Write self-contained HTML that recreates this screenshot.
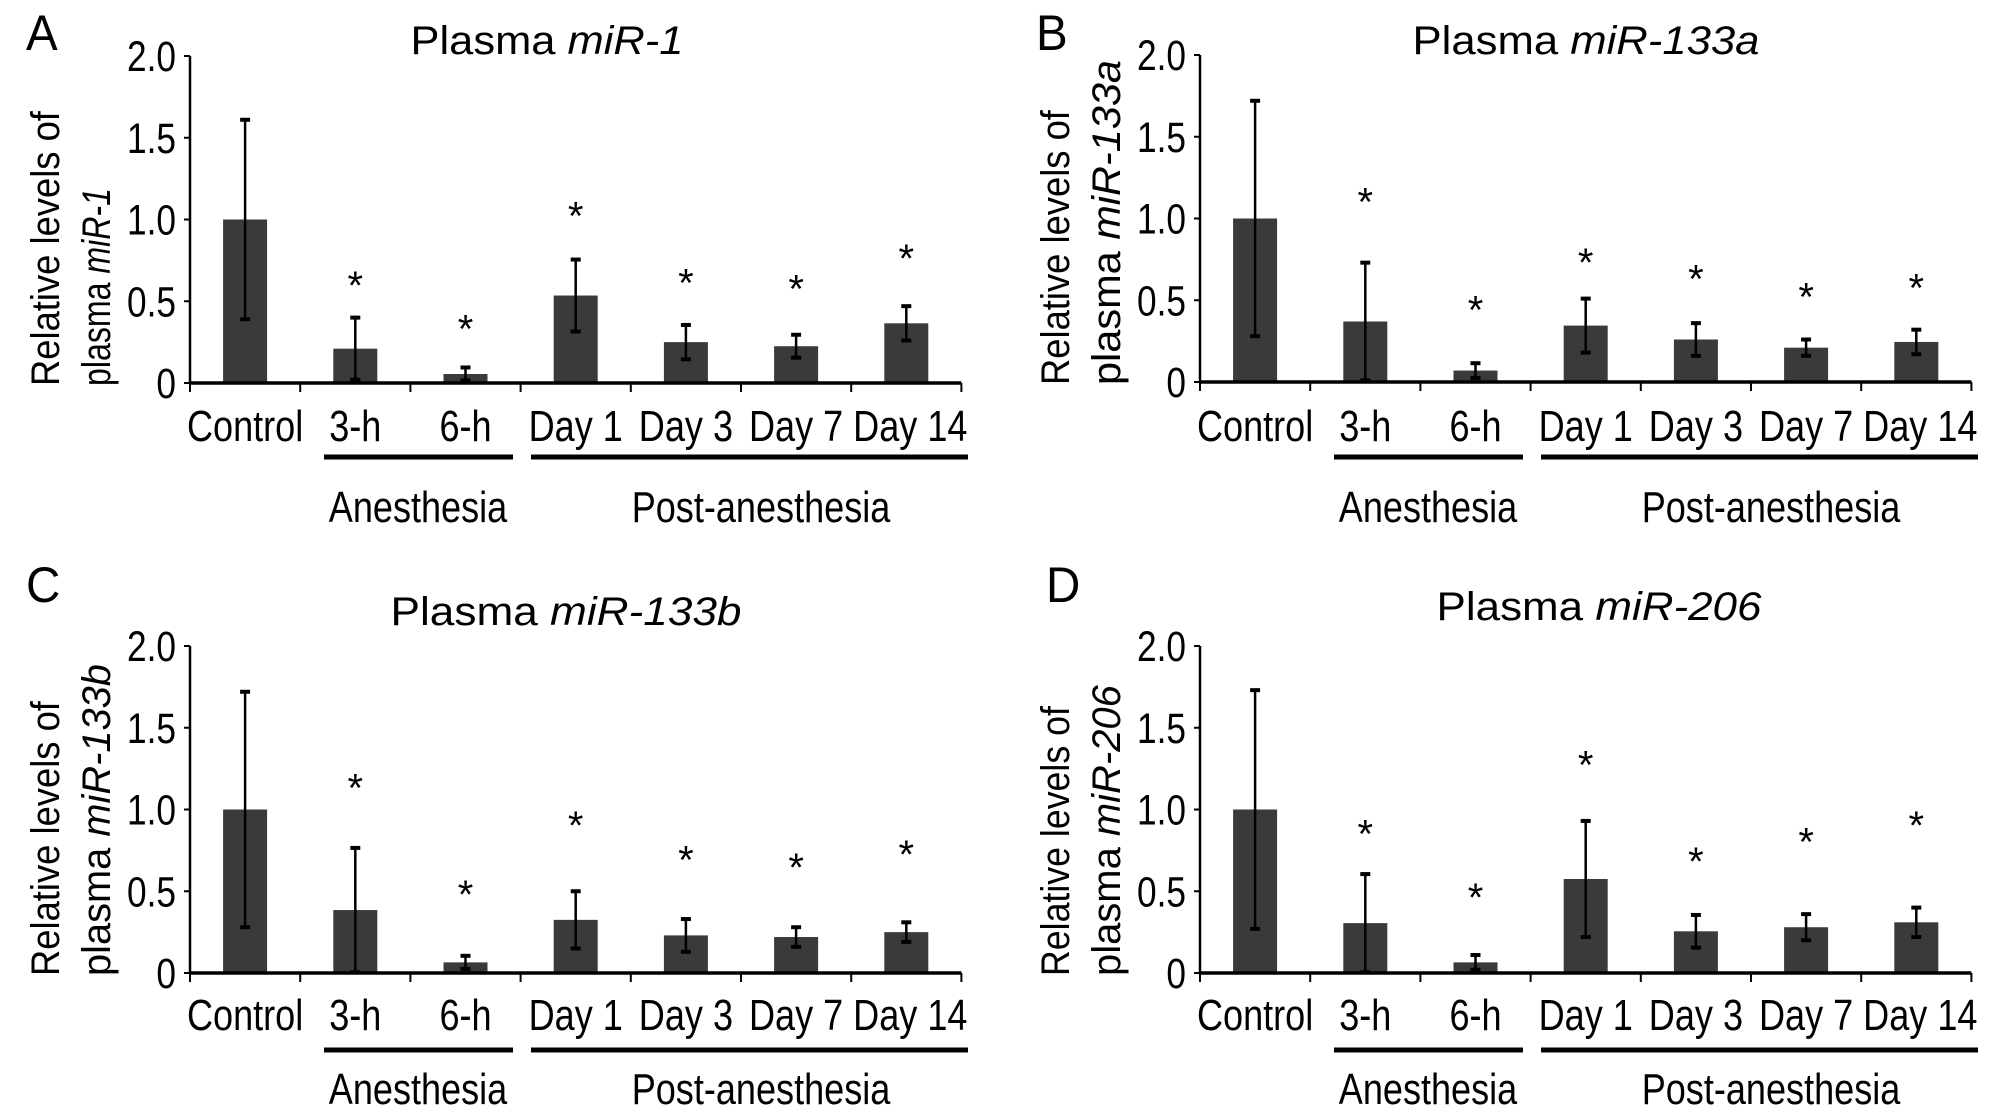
<!DOCTYPE html>
<html><head><meta charset="utf-8"><style>
html,body{margin:0;padding:0;background:#fff;}
svg{display:block;font-family:"Liberation Sans",Arial,sans-serif;}
</style></head><body>
<svg id="fig" width="2009" height="1117" viewBox="0 0 2009 1117" xmlns="http://www.w3.org/2000/svg"></svg>
<script>
const categories = ["Control","3-h","6-h","Day 1","Day 3","Day 7","Day 14"];
const yTicks = [0, 0.5, 1.0, 1.5, 2.0];
const yTickLabels = ["0","0.5","1.0","1.5","2.0"];
const meansA = [1.0, 0.21, 0.055, 0.535, 0.25, 0.225, 0.365];
const errsA  = [0.61, 0.19, 0.04, 0.22, 0.105, 0.07, 0.105];
const starsA = [null, 0.605, 0.34, 1.03, 0.62, 0.585, 0.77];
const meansB = [1.0, 0.37, 0.07, 0.345, 0.26, 0.21, 0.245];
const errsB  = [0.72, 0.36, 0.045, 0.165, 0.1, 0.05, 0.075];
const starsB = [null, 1.11, 0.45, 0.74, 0.64, 0.53, 0.585];
const meansC = [1.0, 0.385, 0.065, 0.325, 0.23, 0.22, 0.25];
const errsC  = [0.72, 0.38, 0.04, 0.175, 0.1, 0.06, 0.06];
const starsC = [null, 1.14, 0.49, 0.91, 0.70, 0.655, 0.735];
const meansD = [1.0, 0.305, 0.065, 0.575, 0.255, 0.28, 0.31];
const errsD  = [0.73, 0.30, 0.045, 0.355, 0.1, 0.08, 0.09];
const starsD = [null, 0.86, 0.47, 1.28, 0.69, 0.81, 0.91];

const NS = "http://www.w3.org/2000/svg";
const svg = document.getElementById("fig");
function mk(tag, attrs, parent){
  const e = document.createElementNS(NS, tag);
  for (const k in attrs) e.setAttribute(k, attrs[k]);
  (parent||svg).appendChild(e);
  return e;
}
function txt(parent, x, y, s, size, anchor, sx){
  const t = mk("text", {"font-size": size, "text-anchor": anchor||"start", fill:"#000",
    transform:"translate("+x+","+y+") scale("+(sx||1)+",1)"}, parent);
  t.textContent = s;
  return t;
}
function fit(t, x, y, target){
  const w = t.getComputedTextLength();
  const s = w > 0 ? target / w : 1;
  t.setAttribute("transform", "translate("+x+","+y+") scale("+s+",1)");
}

const panels = [
  {id:"a", letter:"A", gene:"miR-1", ox:190, oy:383, means:meansA, errs:errsA, stars:starsA,
   lx:26, ly:50, tx:547, ty:54, tl:273, yl1:275, yl2:198, catY:441, grpLine:457, grpY:522},
  {id:"b", letter:"B", gene:"miR-133a", ox:1200, oy:382, means:meansB, errs:errsB, stars:starsB,
   lx:1036, ly:50, tx:1586, ty:54, tl:347, yl1:275, yl2:325, catY:441, grpLine:457, grpY:522},
  {id:"c", letter:"C", gene:"miR-133b", ox:190, oy:973, means:meansC, errs:errsC, stars:starsC,
   lx:26, ly:602, tx:566, ty:625, tl:351, yl1:275, yl2:312, catY:1030, grpLine:1050, grpY:1104},
  {id:"d", letter:"D", gene:"miR-206", ox:1200, oy:973, means:meansD, errs:errsD, stars:starsD,
   lx:1046, ly:602, tx:1599, ty:620, tl:325, yl1:270, yl2:291, catY:1030, grpLine:1050, grpY:1104}
];

const UNIT = 163.5, CATW = 110.2, BARW = 44;

panels.forEach(p => {
  const g = mk("g", {});
  
  
  const y = v => p.oy - v*UNIT;
  const xc = i => p.ox + CATW*(i+0.5);

  const L = txt(g, p.lx, p.ly, p.letter, 50, "start", 0.95);
  
  

  const T = mk("text", {"font-size":40, "text-anchor":"middle", fill:"#000"}, g);
  
  
  T.appendChild(document.createTextNode("Plasma "));
  const it = mk("tspan", {"font-style":"italic"}, T); it.textContent = p.gene;
  fit(T, p.tx, p.ty, p.tl);

  // y-axis title (both lines start at the bottom)
  const yt = mk("g", {transform:"translate("+(p.ox-145)+","+(p.oy+3)+") rotate(-90)"}, g);
  
  
  const t1 = mk("text", {"font-size":40, "text-anchor":"start"}, yt);
  t1.textContent = "Relative levels of";
  fit(t1, 0, 14, p.yl1);
  const t2 = mk("text", {"font-size":40, "text-anchor":"start"}, yt);
  t2.appendChild(document.createTextNode("plasma "));
  const it2 = mk("tspan", {"font-style":"italic"}, t2); it2.textContent = p.gene;
  fit(t2, 0, 65, p.yl2);

  // y axis
  const ya = mk("line", {x1:p.ox, y1:y(2), x2:p.ox, y2:p.oy, stroke:"#000", "stroke-width":2.5}, g);
  
  
  yTicks.forEach((v,i) => {
    mk("line", {x1:p.ox-6, y1:y(v), x2:p.ox, y2:y(v), stroke:"#000", "stroke-width":2}, g);
    const tl = txt(g, p.ox-14, y(v)+15, yTickLabels[i], 43, "end", 0.82);
    
    
  });

  // bars
  categories.forEach((c,i) => {
    const m = p.means[i], e = p.errs[i];
    const b = mk("rect", {x:xc(i)-BARW/2, y:y(m), width:BARW, height:p.oy-y(m), fill:"#3a3a3a"}, g);
    
    
    const eb = mk("g", {stroke:"#000", "stroke-width":2.5}, g);
    
    
    mk("line", {x1:xc(i), y1:y(m+e), x2:xc(i), y2:y(Math.max(0,m-e))}, eb);
    mk("line", {x1:xc(i)-5, y1:y(m+e), x2:xc(i)+5, y2:y(m+e), "stroke-width":4}, eb);
    mk("line", {x1:xc(i)-5, y1:y(Math.max(0,m-e)), x2:xc(i)+5, y2:y(Math.max(0,m-e)), "stroke-width":4}, eb);
    if (p.stars[i] !== null) {
      const s = txt(g, xc(i), y(p.stars[i])+15, "*", 40, "middle", 1);
      
      
    }
    const cl = txt(g, xc(i) + (i===6 ? 4 : 0), p.catY, c, 44, "middle", 0.82);
    
    
  });

  // x axis
  const xa = mk("line", {x1:p.ox, y1:p.oy, x2:p.ox+CATW*7, y2:p.oy, stroke:"#000", "stroke-width":3.5}, g);
  
  
  for (let k=0;k<=7;k++) mk("line", {x1:p.ox+CATW*k, y1:p.oy, x2:p.ox+CATW*k, y2:p.oy+9, stroke:"#000", "stroke-width":2}, g);

  // group lines
  const ga = mk("line", {x1:p.ox+134, y1:p.grpLine, x2:p.ox+323, y2:p.grpLine, stroke:"#000", "stroke-width":5}, g);
  
  
  const gp = mk("line", {x1:p.ox+341, y1:p.grpLine, x2:p.ox+778, y2:p.grpLine, stroke:"#000", "stroke-width":5}, g);
  
  
  const la = txt(g, p.ox+228, p.grpY, "Anesthesia", 44, "middle", 0.82);
  
  
  const lp = txt(g, p.ox+571, p.grpY, "Post-anesthesia", 44, "middle", 0.82);
  
  
});
</script>
</body></html>
